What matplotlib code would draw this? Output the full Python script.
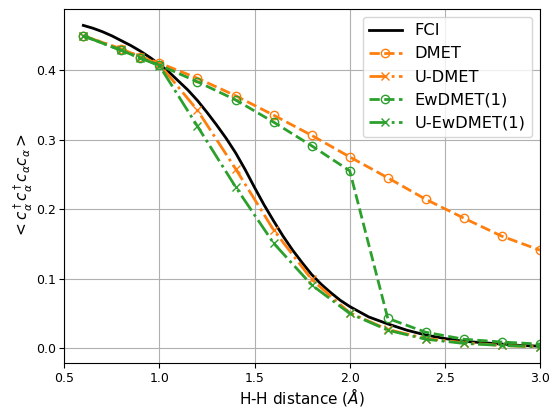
import matplotlib
matplotlib.use("Agg")
import matplotlib.pyplot as plt

# FCI reference curve
fci_x = [0.6, 0.65, 0.7, 0.75, 0.8, 0.85, 0.9, 0.95, 1.0, 1.05, 1.1, 1.15, 1.2,
         1.25, 1.3, 1.35, 1.4, 1.45, 1.5, 1.55, 1.6, 1.65, 1.7, 1.75, 1.8, 1.85,
         1.9, 1.95, 2.0, 2.1, 2.2, 2.3, 2.4, 2.5, 2.6, 2.7, 2.8, 2.9, 3.0]
fci_y = [0.464, 0.460, 0.455, 0.449, 0.442, 0.435, 0.427, 0.418, 0.408, 0.397,
         0.384, 0.371, 0.356, 0.339, 0.321, 0.302, 0.281, 0.257, 0.231, 0.206,
         0.183, 0.161, 0.141, 0.123, 0.106, 0.092, 0.080, 0.069, 0.060, 0.045,
         0.035, 0.026, 0.019, 0.014, 0.010, 0.008, 0.006, 0.004, 0.003]

# DMET-family points
x = [0.6, 0.8, 0.9, 1.0, 1.2, 1.4, 1.6, 1.8, 2.0, 2.2, 2.4, 2.6, 2.8, 3.0]
dmet = [0.449, 0.430, 0.419, 0.410, 0.388, 0.363, 0.335, 0.306, 0.275, 0.245,
        0.214, 0.187, 0.161, 0.141]
u_dmet = [0.449, 0.430, 0.419, 0.408, 0.342, 0.258, 0.170, 0.099, 0.051, 0.027,
          0.014, 0.008, 0.004, 0.002]
ewdmet = [0.449, 0.428, 0.417, 0.407, 0.383, 0.357, 0.325, 0.291, 0.255, 0.043,
          0.023, 0.013, 0.009, 0.006]
u_ewdmet = [0.449, 0.428, 0.417, 0.406, 0.319, 0.232, 0.151, 0.091, 0.050, 0.026,
            0.013, 0.007, 0.004, 0.002]

fig = plt.figure(figsize=(5.53, 4.07), dpi=100)
ax = fig.add_axes([64.3/553, 1 - 363.3/407, (540 - 64.3)/553, (363.3 - 8.7)/407])

ax.plot(fci_x, fci_y, '-', color='black', lw=2, label='FCI')
ax.plot(x, dmet, '--o', color='C1', lw=2, mfc='none', ms=6, label='DMET')
ax.plot(x, u_dmet, '-.x', color='C1', lw=2, ms=6, label='U-DMET')
ax.plot(x, ewdmet, '--o', color='C2', lw=2, mfc='none', ms=6, label='EwDMET(1)')
ax.plot(x, u_ewdmet, '-.x', color='C2', lw=2, ms=6, label='U-EwDMET(1)')

ax.set_xlim(0.5, 3.0)
ax.set_ylim(-0.0216, 0.488)
ax.set_xticks([0.5, 1.0, 1.5, 2.0, 2.5, 3.0])
ax.set_yticks([0.0, 0.1, 0.2, 0.3, 0.4])
ax.tick_params(labelsize=9, pad=2.5)
ax.grid(True)
ax.set_xlabel(r'H-H distance ($\AA$)', fontsize=11, labelpad=1)
ax.set_ylabel(r'$<c_\alpha^\dagger c_\alpha^\dagger c_\alpha c_\alpha>$', fontsize=11, labelpad=1)
ax.legend(loc='upper right', fontsize=11.7)

fig.savefig('out.png', dpi=100)
